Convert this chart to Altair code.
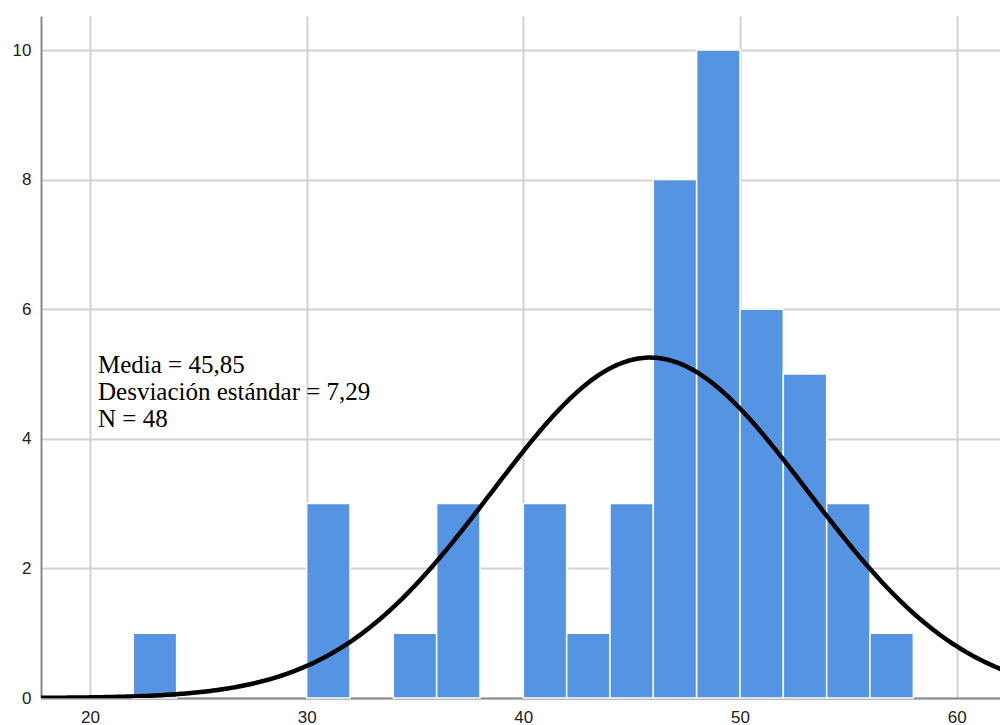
import altair as alt
import numpy as np
import pandas as pd

# Histogram bins (width 2) and their counts
bin_start = [22, 30, 34, 36, 40, 42, 44, 46, 48, 50, 52, 54, 56]
counts = [1, 3, 1, 3, 3, 1, 3, 8, 10, 6, 5, 3, 1]
bin_width = 2

# Summary statistics shown in the annotation
mean = 45.85
std_dev = 7.29
n_obs = 48

x_ticks = [20, 30, 40, 50, 60]
y_ticks = [0, 2, 4, 6, 8, 10]
x_domain = [17.74, 62.0]
y_domain = [0, 10.525]

bars = pd.DataFrame({
    "start": bin_start,
    "end": [b + bin_width for b in bin_start],
    "count": counts,
})

# Normal curve scaled to the histogram (N * bin width * density)
xs = np.linspace(x_domain[0], 63, 400)
dens = n_obs * bin_width * np.exp(-0.5 * ((xs - mean) / std_dev) ** 2) / (std_dev * np.sqrt(2 * np.pi))
curve = pd.DataFrame({"x": xs, "y": dens})

x_scale = alt.Scale(domain=x_domain, nice=False, zero=False)
y_scale = alt.Scale(domain=y_domain, nice=False, zero=True)

axis_common = dict(
    grid=True, gridColor="#d2d2d2", gridWidth=2,
    domain=True, domainColor="#8a8a8a", domainWidth=2,
    ticks=False, labelFont="Liberation Sans", labelFontSize=17,
    labelColor="#222222", title=None, format="d",
)

hist = alt.Chart(bars).mark_rect(
    color="#5594e3", stroke="white", strokeWidth=1.5
).encode(
    x=alt.X("start:Q", scale=x_scale,
            axis=alt.Axis(values=x_ticks, labelPadding=11, **axis_common)),
    x2="end:Q",
    y=alt.Y("count:Q", scale=y_scale,
            axis=alt.Axis(values=y_ticks, labelPadding=10, **axis_common)),
    y2=alt.datum(0),
)

line = alt.Chart(curve).mark_line(
    color="black", strokeWidth=4.5, clip=True
).encode(
    x=alt.X("x:Q", scale=x_scale),
    y=alt.Y("y:Q", scale=y_scale),
)

fmt = lambda v: f"{v:.2f}".replace(".", ",")
lines = [
    f"Media = {fmt(mean)}",
    f"Desviación estándar = {fmt(std_dev)}",
    f"N = {n_obs}",
]

label = alt.Chart(pd.DataFrame({"k": [0]})).mark_text(
    text=lines, font="Liberation Serif", fontSize=25, lineHeight=27,
    align="left", baseline="alphabetic", color="black",
).encode(x=alt.value(57), y=alt.value(357))

chart = alt.layer(hist, line, label).properties(
    width=959, height=682,
    autosize=alt.AutoSizeParams(type="none"),
    padding={"left": 41, "top": 16, "right": 0, "bottom": 27},
    background="white",
).configure_view(stroke=None)

chart.save("out.html", embed_options={"renderer": "svg", "actions": False})
